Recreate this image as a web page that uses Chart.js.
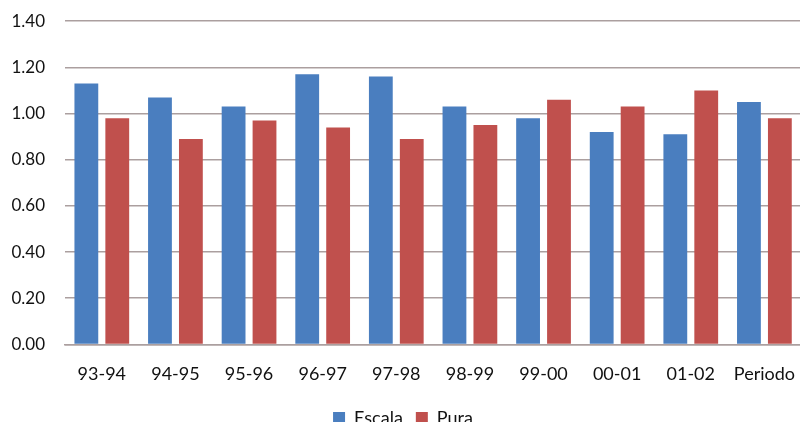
<!DOCTYPE html>
<html>
<head>
<meta charset="utf-8">
<script src="https://cdn.jsdelivr.net/npm/chart.js@4.4.1/dist/chart.umd.min.js"></script>
<style>
    html, body { margin: 0; padding: 0; background: #ffffff; overflow: hidden; }
    #wrap { position: relative; width: 806px; height: 449px; margin-top: -9px; }
</style>
</head>
<body>
<div id="wrap"><canvas id="ratioChart"></canvas></div>
<script>
// Categories and series
const periods = ['93-94', '94-95', '95-96', '96-97', '97-98', '98-99', '99-00', '00-01', '01-02', 'Periodo'];
const escala = [1.13, 1.07, 1.03, 1.17, 1.16, 1.03, 0.98, 0.92, 0.91, 1.05];
const pura = [0.98, 0.89, 0.97, 0.94, 0.89, 0.95, 1.06, 1.03, 1.10, 0.98];
const yTicks = [0, 0.2, 0.4, 0.6, 0.8, 1.0, 1.2, 1.4];

const FONT = 'Lato, "Open Sans", sans-serif';
const gridColor = '#ab9f9f';

document.addEventListener('DOMContentLoaded', () => {
    const ctx = document.getElementById('ratioChart');

    new Chart(ctx, {
        type: 'bar',
        data: {
            labels: periods,
            datasets: [
                { label: 'Escala', data: escala, backgroundColor: '#4a7ebf', borderWidth: 0 },
                { label: 'Pura', data: pura, backgroundColor: '#c0504d', borderWidth: 0 }
            ]
        },
        options: {
            responsive: true,
            maintainAspectRatio: false,
            animation: false,
            layout: { padding: { top: 4, left: 0, right: 0, bottom: 3 } },
            datasets: {
                bar: { categoryPercentage: 0.84, barPercentage: 0.77 }
            },
            plugins: {
                legend: {
                    position: 'bottom',
                    labels: {
                        color: '#111',
                        font: { family: FONT, size: 18 },
                        boxWidth: 12,
                        boxHeight: 12,
                        padding: 13
                    }
                },
                tooltip: { enabled: false }
            },
            scales: {
                y: {
                    min: 0,
                    max: 1.4,
                    afterBuildTicks: axis => { axis.ticks = yTicks.map(v => ({ value: v })); },
                    afterFit: axis => { axis.width = 65; },
                    grid: { color: gridColor, lineWidth: 1.5, drawTicks: false },
                    border: { display: false },
                    ticks: {
                        color: '#111',
                        padding: 20,
                        font: { family: FONT, size: 17 },
                        callback: v => Number(v).toFixed(2)
                    }
                },
                x: {
                    grid: { display: false },
                    border: { display: true, color: gridColor, width: 1.5 },
                    ticks: {
                        color: '#111',
                        padding: 11,
                        maxRotation: 0,
                        autoSkip: false,
                        font: { family: FONT, size: 18 }
                    }
                }
            }
        }
    });
});
</script>
</body>
</html>
